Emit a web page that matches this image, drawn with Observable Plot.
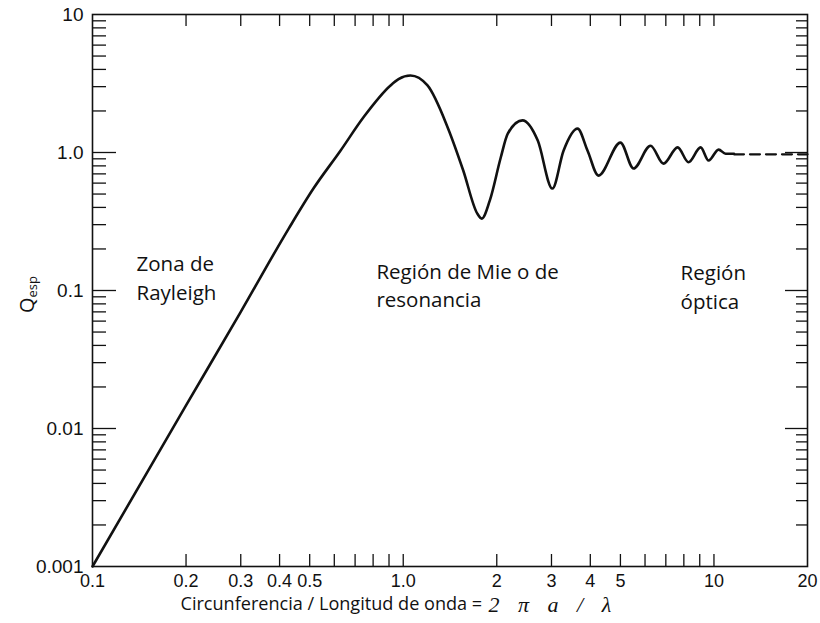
<!DOCTYPE html>
<html>
<head>
<meta charset="utf-8">
<script src="https://cdn.jsdelivr.net/npm/d3@7"></script>
<script src="https://cdn.jsdelivr.net/npm/@observablehq/plot@0.6"></script>
<style>
  html, body { margin: 0; padding: 0; background: #ffffff; }
  #chart { width: 820px; height: 623px; }
</style>
</head>
<body>
<div id="chart"></div>
<script>
// ---- data ----
const qX = [0.1, 0.2, 0.3, 0.428, 0.514, 0.628, 0.745, 0.91, 0.966, 1.055, 1.197, 1.39, 1.56, 1.73, 1.79, 1.9, 2.06, 2.17, 2.42, 2.71, 3.02, 3.28, 3.64, 3.92, 4.25, 5.0, 5.51, 6.25, 6.88, 7.64, 8.28, 9.06, 9.61, 10.35, 10.9, 11.6];
const qY = [0.001, 0.0147, 0.070, 0.281, 0.548, 1.03, 1.80, 3.06, 3.40, 3.61, 3.06, 1.52, 0.741, 0.362, 0.332, 0.45, 0.92, 1.37, 1.71, 1.22, 0.548, 1.03, 1.49, 1.03, 0.68, 1.18, 0.766, 1.12, 0.83, 1.09, 0.85, 1.09, 0.875, 1.05, 0.98, 0.98];
const opticalX = [11.6, 20];
const opticalY = [0.97, 0.97];

const xTickValues = [0.1, 0.2, 0.3, 0.4, 0.5, 0.8, 1, 2, 3, 4, 5, 6, 8, 10, 20];
const xTickLabels = ["0.1", "0.2", "0.3", "0.4", "0.5", "0.8", "1.0", "2", "3", "4", "5", "6", "8", "10", "20"];
const xMarks = [0.2, 0.3, 0.4, 0.5, 0.6, 0.7, 0.8, 0.9, 1, 2, 3, 4, 5, 6, 7, 8, 9, 10];

const yTickValues = [0.001, 0.01, 0.1, 1, 10];
const yTickLabels = ["0.001", "0.01", "0.1", "1.0", "10"];
const yMajor = [0.01, 0.1, 1];
const yMinor = [0.002, 0.003, 0.004, 0.005, 0.006, 0.007, 0.008, 0.009,
                0.02, 0.03, 0.04, 0.05, 0.06, 0.07, 0.08, 0.09,
                0.2, 0.3, 0.4, 0.5, 0.6, 0.7, 0.8, 0.9,
                2, 3, 4, 5, 6, 7, 8, 9];

const regionLabels = ["Zona de\nRayleigh", "Región de Mie o de\nresonancia", "Región\nóptica"];
const regionX = [0.1386, 0.82, 7.81];
const regionY = [0.126, 0.112, 0.109];

const xTitleMain = "Circunferencia / Longitud de onda =";
const xTitleFormula = "2 π a / λ";
const yTitle = "Qesp";

// ---- build ----
const W = 820, H = 623, mL = 92, mR = 13, mT = 14, mB = 57;
const pw = W - mL - mR, ph = H - mT - mB;

const curve = qX.map((x, i) => ({x, y: qY[i]}));
const optical = opticalX.map((x, i) => ({x, y: opticalY[i]}));
const regions = regionLabels.map((t, i) => ({t, x: regionX[i], y: regionY[i]}));

const sansTicks = "'Liberation Sans', Arial, sans-serif";
const sansText = "'Open Sans', 'Noto Sans', sans-serif";

const plot = Plot.plot({
  width: W, height: H,
  marginLeft: mL, marginRight: mR, marginTop: mT, marginBottom: mB,
  style: {background: "#ffffff", color: "#111"},
  x: {type: "log", domain: [0.1, 20]},
  y: {type: "log", domain: [0.001, 10]},
  marks: [
    Plot.tickX(xMarks, {x: d => d, insetTop: ph - 12, stroke: "#111", strokeWidth: 1.3}),
    Plot.tickX(xMarks, {x: d => d, insetBottom: ph - 12, stroke: "#111", strokeWidth: 1.3}),
    Plot.tickY(yMajor, {y: d => d, insetRight: pw - 24, stroke: "#111", strokeWidth: 1.3}),
    Plot.tickY(yMinor, {y: d => d, insetRight: pw - 14, stroke: "#111", strokeWidth: 1.3}),
    Plot.tickY(yMajor, {y: d => d, insetLeft: pw - 22, stroke: "#111", strokeWidth: 1.3}),
    Plot.tickY(yMinor, {y: d => d, insetLeft: pw - 11, stroke: "#111", strokeWidth: 1.3}),
    Plot.frame({stroke: "#111", strokeWidth: 1.6}),
    Plot.axisX({ticks: xTickValues, tickSize: 0, tickPadding: 8,
      tickFormat: d => xTickLabels[xTickValues.indexOf(d)] ?? "",
      fontSize: 18, fontFamily: sansTicks, label: null}),
    Plot.axisY({ticks: yTickValues, tickSize: 0, tickPadding: 9,
      tickFormat: d => yTickLabels[yTickValues.indexOf(d)] ?? "",
      fontSize: 19, fontFamily: sansTicks, label: null}),
    Plot.line(curve, {x: "x", y: "y", curve: "monotone-x", stroke: "#111", strokeWidth: 2.6}),
    Plot.line(optical, {x: "x", y: "y", stroke: "#111", strokeWidth: 2.2, strokeDasharray: "10,6"}),
    Plot.text(regions, {x: "x", y: "y", text: "t", textAnchor: "start", lineAnchor: "middle",
      lineHeight: 1.4, fontSize: 20.5, fontFamily: sansText, fill: "#111"}),
    Plot.text([xTitleMain], {text: d => d, frameAnchor: "bottom-left", dx: 88, dy: 38,
      textAnchor: "start", lineAnchor: "middle", fontSize: 18.1, fontFamily: sansText, fill: "#111"}),
    Plot.text([xTitleFormula], {text: d => d, frameAnchor: "bottom-left", dx: 396, dy: 38,
      textAnchor: "start", lineAnchor: "middle", fontSize: 22, fontFamily: "'Liberation Serif', serif",
      fontStyle: "italic", fill: "#111"}),
    Plot.text([yTitle], {text: d => d, frameAnchor: "left", dx: -65, dy: 4, rotate: -90,
      textAnchor: "middle", lineAnchor: "middle", fontSize: 20, fontFamily: sansText, fill: "#111"})
  ]
});

const svg = d3.select(plot);
// subscript for Q_esp
svg.selectAll("text").filter(function() { return this.textContent === yTitle; })
  .each(function() {
    const t = d3.select(this);
    t.text(null);
    t.append("tspan").text("Q");
    t.append("tspan").attr("font-size", 13).attr("dy", "0.25em").text("esp");
  });
// wider spacing in the formula
svg.selectAll("text").filter(function() { return this.textContent === xTitleFormula; })
  .attr("letter-spacing", "6.5px");

document.getElementById("chart").append(plot);
</script>
</body>
</html>
